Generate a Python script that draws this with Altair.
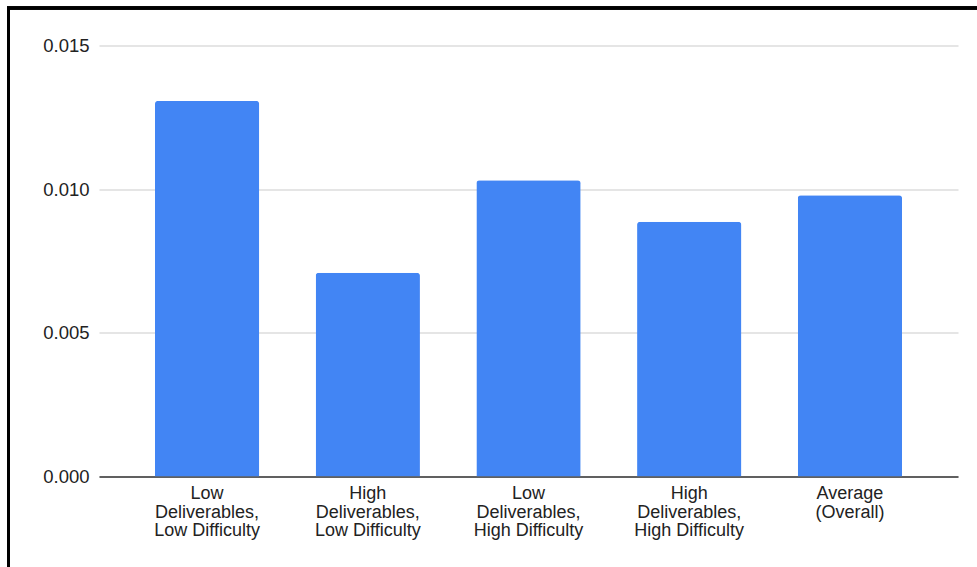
import altair as alt
import pandas as pd

categories = [
    "Low\nDeliverables,\nLow Difficulty",
    "High\nDeliverables,\nLow Difficulty",
    "Low\nDeliverables,\nHigh Difficulty",
    "High\nDeliverables,\nHigh Difficulty",
    "Average\n(Overall)",
]
values = [0.01307, 0.00709, 0.01031, 0.00887, 0.00979]
y_ticks = [0.0, 0.005, 0.010, 0.015]

df = pd.DataFrame({"category": categories, "value": values})

FONT = "Liberation Sans"

bars = alt.Chart(df).mark_bar(
    color="#4285F4",
    cornerRadiusTopLeft=3,
    cornerRadiusTopRight=3,
).encode(
    x=alt.X(
        "category:N",
        sort=categories,
        title=None,
        scale=alt.Scale(paddingInner=0.351, paddingOuter=0.348),
        axis=alt.Axis(
            labelAngle=0,
            labelExpr="split(datum.label, '\\n')",
            labelFont=FONT,
            labelFontSize=18,
            labelLineHeight=18.5,
            labelColor="#222222",
            labelPadding=8,
            ticks=False,
            domainColor="#333333",
            domainWidth=1.5,
            labelLimit=300,
        ),
    ),
    y=alt.Y(
        "value:Q",
        title=None,
        scale=alt.Scale(domain=[0, 0.015], nice=False),
        axis=alt.Axis(
            values=y_ticks,
            format=".3f",
            labelFont=FONT,
            labelFontSize=18.5,
            labelColor="#222222",
            labelPadding=10,
            ticks=False,
            domain=False,
            gridColor="#cccccc",
            gridWidth=1.2,
        ),
    ),
)

frame = alt.Chart(df).mark_rect(
    fill=None, stroke="black", strokeWidth=3, clip=False
).encode(
    x=alt.value(-90.5),
    y=alt.value(-37.5),
    x2=alt.value(1000),
    y2=alt.value(600),
)

chart = alt.layer(bars, frame).properties(
    width=859,
    height=431,
    background="white",
    autosize=alt.AutoSizeParams(type="none"),
    padding={"left": 99, "top": 45.5, "right": 19, "bottom": 90.5},
).configure_view(stroke=None)

chart.save("out.html", embed_options={"renderer": "svg", "actions": False})
